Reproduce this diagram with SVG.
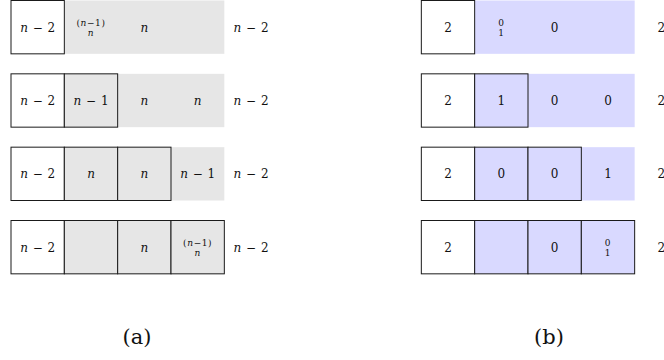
<svg xmlns="http://www.w3.org/2000/svg" width="664" height="360" viewBox="0 0 664 360">
<style>
.w{fill:#ffffff;stroke:#1a1a1a;stroke-width:1}
.g{fill:#e6e6e6}
.gb{fill:#e6e6e6;stroke:#1a1a1a;stroke-width:1}
.b{fill:#d9d9ff}
.bb{fill:#d9d9ff;stroke:#1a1a1a;stroke-width:1}
text{fill:#111;text-anchor:middle;font-family:'DejaVu Serif','Liberation Serif',serif}
.m{font-size:12px;word-spacing:1px}
.s{font-size:9px;letter-spacing:0.6px}
.i{font-style:italic}
.cap{font-size:21px}
</style>
<g id="panel-a">
  <g id="a-row1">
    <rect class="g" x="64.33" y="0.5" width="160" height="53.33"/>
    <rect class="w" x="11" y="0.5" width="53.33" height="53.33"/>
    <text class="m" x="37.67" y="31.5"><tspan class="i">n</tspan> − 2</text>
    <text class="s" x="91" y="25.5">(<tspan class="i">n</tspan>−1)</text>
    <text class="s" x="91" y="36"><tspan class="i">n</tspan></text>
    <text class="m i" x="144.33" y="31.5">n</text>
    <text class="m" x="251" y="31.5"><tspan class="i">n</tspan> − 2</text>
  </g>
  <g id="a-row2">
    <rect class="g" x="117.67" y="73.83" width="106.67" height="53.33"/>
    <rect class="w" x="11" y="73.83" width="53.33" height="53.33"/>
    <rect class="gb" x="64.33" y="73.83" width="53.33" height="53.33"/>
    <text class="m" x="37.67" y="104.83"><tspan class="i">n</tspan> − 2</text>
    <text class="m" x="91" y="104.83"><tspan class="i">n</tspan> − 1</text>
    <text class="m i" x="144.33" y="104.83">n</text>
    <text class="m i" x="197.67" y="104.83">n</text>
    <text class="m" x="251" y="104.83"><tspan class="i">n</tspan> − 2</text>
  </g>
  <g id="a-row3">
    <rect class="g" x="171" y="147.17" width="53.33" height="53.33"/>
    <rect class="w" x="11" y="147.17" width="53.33" height="53.33"/>
    <rect class="gb" x="64.33" y="147.17" width="53.33" height="53.33"/>
    <rect class="gb" x="117.67" y="147.17" width="53.33" height="53.33"/>
    <text class="m" x="37.67" y="178.17"><tspan class="i">n</tspan> − 2</text>
    <text class="m i" x="91" y="178.17">n</text>
    <text class="m i" x="144.33" y="178.17">n</text>
    <text class="m" x="197.67" y="178.17"><tspan class="i">n</tspan> − 1</text>
    <text class="m" x="251" y="178.17"><tspan class="i">n</tspan> − 2</text>
  </g>
  <g id="a-row4">
    <rect class="w" x="11" y="220.5" width="53.33" height="53.33"/>
    <rect class="gb" x="64.33" y="220.5" width="53.33" height="53.33"/>
    <rect class="gb" x="117.67" y="220.5" width="53.33" height="53.33"/>
    <rect class="gb" x="171" y="220.5" width="53.33" height="53.33"/>
    <text class="m" x="37.67" y="251.5"><tspan class="i">n</tspan> − 2</text>
    <text class="m i" x="144.33" y="251.5">n</text>
    <text class="s" x="197.67" y="245.5">(<tspan class="i">n</tspan>−1)</text>
    <text class="s" x="197.67" y="256"><tspan class="i">n</tspan></text>
    <text class="m" x="251" y="251.5"><tspan class="i">n</tspan> − 2</text>
  </g>
  <text id="cap-a" class="cap" x="137" y="344">(a)</text>
</g>
<g id="panel-b">
  <g id="b-row1">
    <rect class="b" x="474.67" y="0.5" width="160" height="53.33"/>
    <rect class="w" x="421.33" y="0.5" width="53.33" height="53.33"/>
    <text class="m" x="448" y="31.5">2</text>
    <text class="s" x="501.33" y="25.5">0</text>
    <text class="s" x="501.33" y="36">1</text>
    <text class="m" x="554.67" y="31.5">0</text>
    <text class="m" x="661.33" y="31.5">2</text>
  </g>
  <g id="b-row2">
    <rect class="b" x="528" y="73.83" width="106.67" height="53.33"/>
    <rect class="w" x="421.33" y="73.83" width="53.33" height="53.33"/>
    <rect class="bb" x="474.67" y="73.83" width="53.33" height="53.33"/>
    <text class="m" x="448" y="104.83">2</text>
    <text class="m" x="501.33" y="104.83">1</text>
    <text class="m" x="554.67" y="104.83">0</text>
    <text class="m" x="608" y="104.83">0</text>
    <text class="m" x="661.33" y="104.83">2</text>
  </g>
  <g id="b-row3">
    <rect class="b" x="581.33" y="147.17" width="53.33" height="53.33"/>
    <rect class="w" x="421.33" y="147.17" width="53.33" height="53.33"/>
    <rect class="bb" x="474.67" y="147.17" width="53.33" height="53.33"/>
    <rect class="bb" x="528" y="147.17" width="53.33" height="53.33"/>
    <text class="m" x="448" y="178.17">2</text>
    <text class="m" x="501.33" y="178.17">0</text>
    <text class="m" x="554.67" y="178.17">0</text>
    <text class="m" x="608" y="178.17">1</text>
    <text class="m" x="661.33" y="178.17">2</text>
  </g>
  <g id="b-row4">
    <rect class="w" x="421.33" y="220.5" width="53.33" height="53.33"/>
    <rect class="bb" x="474.67" y="220.5" width="53.33" height="53.33"/>
    <rect class="bb" x="528" y="220.5" width="53.33" height="53.33"/>
    <rect class="bb" x="581.33" y="220.5" width="53.33" height="53.33"/>
    <text class="m" x="448" y="251.5">2</text>
    <text class="m" x="554.67" y="251.5">0</text>
    <text class="s" x="608" y="245.5">0</text>
    <text class="s" x="608" y="256">1</text>
    <text class="m" x="661.33" y="251.5">2</text>
  </g>
  <text id="cap-b" class="cap" x="549" y="344">(b)</text>
</g>
<g id="connectors"/>
</svg>
